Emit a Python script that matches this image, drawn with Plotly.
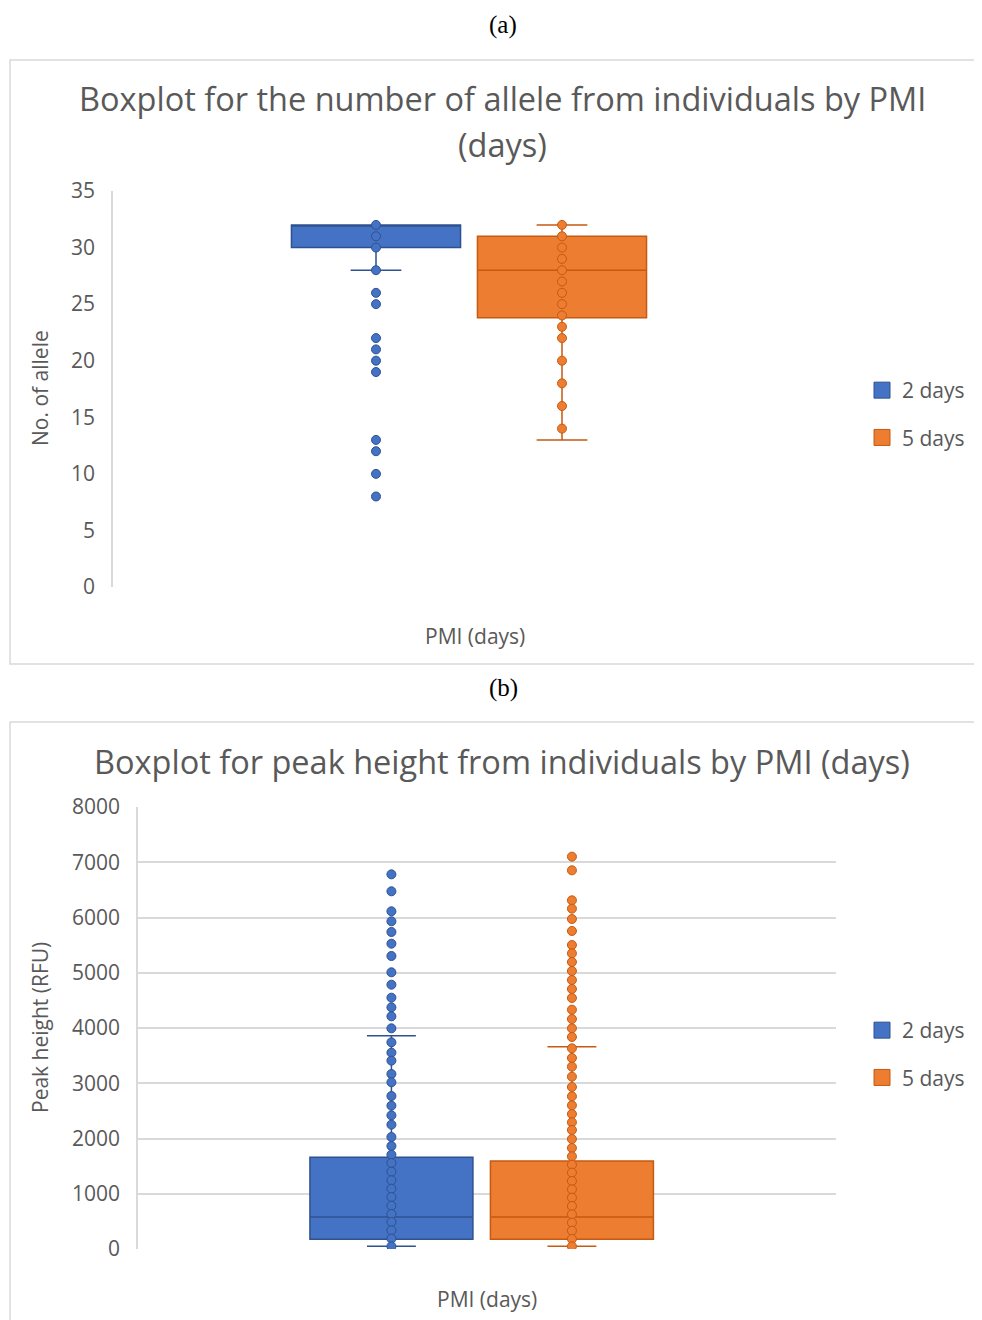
import plotly.graph_objects as go

# page offset of the plot div (browser default body margin)
OFF = 8
W, H = 982 - OFF, 1320 - OFF

# ---------------- data ----------------
groups = ["2 days", "5 days"]
colors_fill = ["#4472C4", "#ED7D31"]
colors_line = ["#2F528F", "#C55A11"]

# (a) number of alleles - box statistics
allele_q1 = [30, 23.8]
allele_median = [32, 28]
allele_q3 = [32, 31]
allele_low = [28, 13]
allele_high = [32, 32]
allele_points_2d = [32, 31, 30, 28, 26, 25, 22, 21, 20, 19, 13, 12, 10, 8]
allele_points_5d = [32, 31, 30, 29, 28, 27, 26, 25, 24, 23, 22, 20, 18, 16, 14]

# (b) peak height - box statistics
peak_q1 = [175, 175]
peak_median = [579, 579]
peak_q3 = [1660, 1593]
peak_low = [48, 48]
peak_high = [3861, 3662]
peak_points_2d = [6781, 6474, 6112, 5931, 5738, 5526, 5303, 5008, 4784, 4549, 4374,
                  4211, 3994, 3741, 3554, 3409, 3167, 3017, 2769, 2594, 2419, 2250,
                  2027, 1864, 1707, 1557, 1400, 1243, 1092, 941, 784, 633, 489, 338,
                  187, 48]
peak_points_5d = [7101, 6854, 6311, 6160, 5973, 5756, 5502, 5351, 5195, 5032, 4869,
                  4706, 4543, 4332, 4163, 3994, 3837, 3632, 3457, 3300, 3119, 2932,
                  2763, 2600, 2443, 2293, 2154, 1991, 1828, 1677, 1526, 1382, 1231,
                  1080, 929, 778, 627, 477, 332, 181, 48]

title_a1 = "Boxplot for the number of allele from individuals by PMI"
title_a2 = "(days)"
title_b = "Boxplot for peak height from individuals by PMI (days)"
ytitle_a = "No. of allele"
ytitle_b = "Peak height (RFU)"
xtitle = "PMI (days)"

FONT = "Open Sans"
GRAY = "#595959"
AXC = "#D9D9D9"

def px_x(p):
    return (p - OFF) / W

def px_y(p):
    return 1 - (p - OFF) / H

fig = go.Figure()

def add_chart(xa, ya, q1, med, q3, lo, hi, pts, width, legend):
    for i, g in enumerate(groups):
        fig.add_trace(go.Box(
            x=[g], q1=[q1[i]], median=[med[i]], q3=[q3[i]],
            lowerfence=[lo[i]], upperfence=[hi[i]],
            fillcolor=colors_fill[i],
            line=dict(color=colors_line[i], width=1.5),
            whiskerwidth=0.3, width=width, boxpoints=False,
            showlegend=False, xaxis=xa, yaxis=ya, hoverinfo="skip",
        ))
        fig.add_trace(go.Scatter(
            x=[g] * len(pts[i]), y=pts[i], mode="markers",
            marker=dict(size=9, color=colors_fill[i],
                        line=dict(color=colors_line[i], width=1)),
            showlegend=False, xaxis=xa, yaxis=ya, hoverinfo="skip",
        ))
    for i, g in enumerate(groups):
        fig.add_trace(go.Scatter(
            x=[None], y=[None], mode="markers", name=g,
            marker=dict(symbol="square", size=20, color=colors_fill[i],
                        line=dict(color=colors_line[i], width=1)),
            legendgroup=legend + g, legend=legend, xaxis=xa, yaxis=ya,
        ))

add_chart("x", "y", allele_q1, allele_median, allele_q3, allele_low, allele_high,
          [allele_points_2d, allele_points_5d], 0.909, "legend")
add_chart("x2", "y2", peak_q1, peak_median, peak_q3, peak_low, peak_high,
          [peak_points_2d, peak_points_5d], 0.903, "legend2")

tickfont = dict(family=FONT, size=21, color=GRAY)

fig.update_layout(
    width=W, height=H,
    margin=dict(l=0, r=0, t=0, b=0, pad=0, autoexpand=False),
    paper_bgcolor="white", plot_bgcolor="white",
    font=dict(family=FONT, color=GRAY),
    xaxis=dict(domain=[px_x(113), px_x(825)], anchor="y", type="category",
               categoryarray=groups, range=[-1.414, 2.414], automargin=False,
               showticklabels=False, showgrid=False, zeroline=False, showline=False),
    yaxis=dict(domain=[px_y(587), px_y(191)], anchor="x", range=[0, 35], dtick=5,
               showgrid=False, zeroline=False, showline=True, linecolor=AXC,
               linewidth=1.5, tickfont=tickfont, ticklabelstandoff=12, automargin=False),
    xaxis2=dict(domain=[px_x(138), px_x(836)], anchor="y2", type="category",
                categoryarray=groups, range=[-1.404, 2.463], automargin=False,
                showticklabels=False, showgrid=False, zeroline=False, showline=False),
    yaxis2=dict(domain=[px_y(1249), px_y(807)], anchor="x2", range=[0, 8000],
                dtick=1000, showgrid=True, gridcolor=AXC, gridwidth=1.5,
                zeroline=False, showline=True, linecolor=AXC, linewidth=1.5,
                tickfont=tickfont, ticklabelstandoff=12, automargin=False),
    legend=dict(x=px_x(862), y=px_y(370), xanchor="left", yanchor="top",
                font=dict(family=FONT, size=21, color=GRAY),
                tracegroupgap=17, bgcolor="rgba(0,0,0,0)", itemsizing="trace"),
    legend2=dict(x=px_x(862), y=px_y(1010), xanchor="left", yanchor="top",
                 font=dict(family=FONT, size=21, color=GRAY),
                 tracegroupgap=17, bgcolor="rgba(0,0,0,0)", itemsizing="trace"),
    showlegend=True,
)

shapes = [
    dict(type="rect", xref="paper", yref="paper", x0=px_x(10), x1=1.05,
         y0=px_y(664), y1=px_y(60), line=dict(color=AXC, width=1.5)),
    dict(type="rect", xref="paper", yref="paper", x0=px_x(10), x1=1.05,
         y0=-0.05, y1=px_y(722), line=dict(color=AXC, width=1.5)),
]
fig.update_layout(shapes=shapes)

ann = [
    dict(text="(a)", x=px_x(503), y=px_y(25), font=dict(family="Liberation Serif", size=25, color="black")),
    dict(text="(b)", x=px_x(503), y=px_y(688), font=dict(family="Liberation Serif", size=25, color="black")),
    dict(text=title_a1, x=px_x(502), y=px_y(99), font=dict(family=FONT, size=32.5, color=GRAY)),
    dict(text=title_a2, x=px_x(502), y=px_y(145), font=dict(family=FONT, size=32.5, color=GRAY)),
    dict(text=title_b, x=px_x(502), y=px_y(761), font=dict(family=FONT, size=32.5, color=GRAY)),
    dict(text=ytitle_a, x=px_x(40), y=px_y(388), textangle=-90, font=dict(family=FONT, size=21, color=GRAY)),
    dict(text=ytitle_b, x=px_x(40), y=px_y(1028), textangle=-90, font=dict(family=FONT, size=21, color=GRAY)),
    dict(text=xtitle, x=px_x(475), y=px_y(636), font=dict(family=FONT, size=21, color=GRAY)),
    dict(text=xtitle, x=px_x(487), y=px_y(1299), font=dict(family=FONT, size=21, color=GRAY)),
]
for a in ann:
    a.update(xref="paper", yref="paper", showarrow=False, xanchor="center", yanchor="middle")
fig.update_layout(annotations=ann)

fig.write_html("out.html")
